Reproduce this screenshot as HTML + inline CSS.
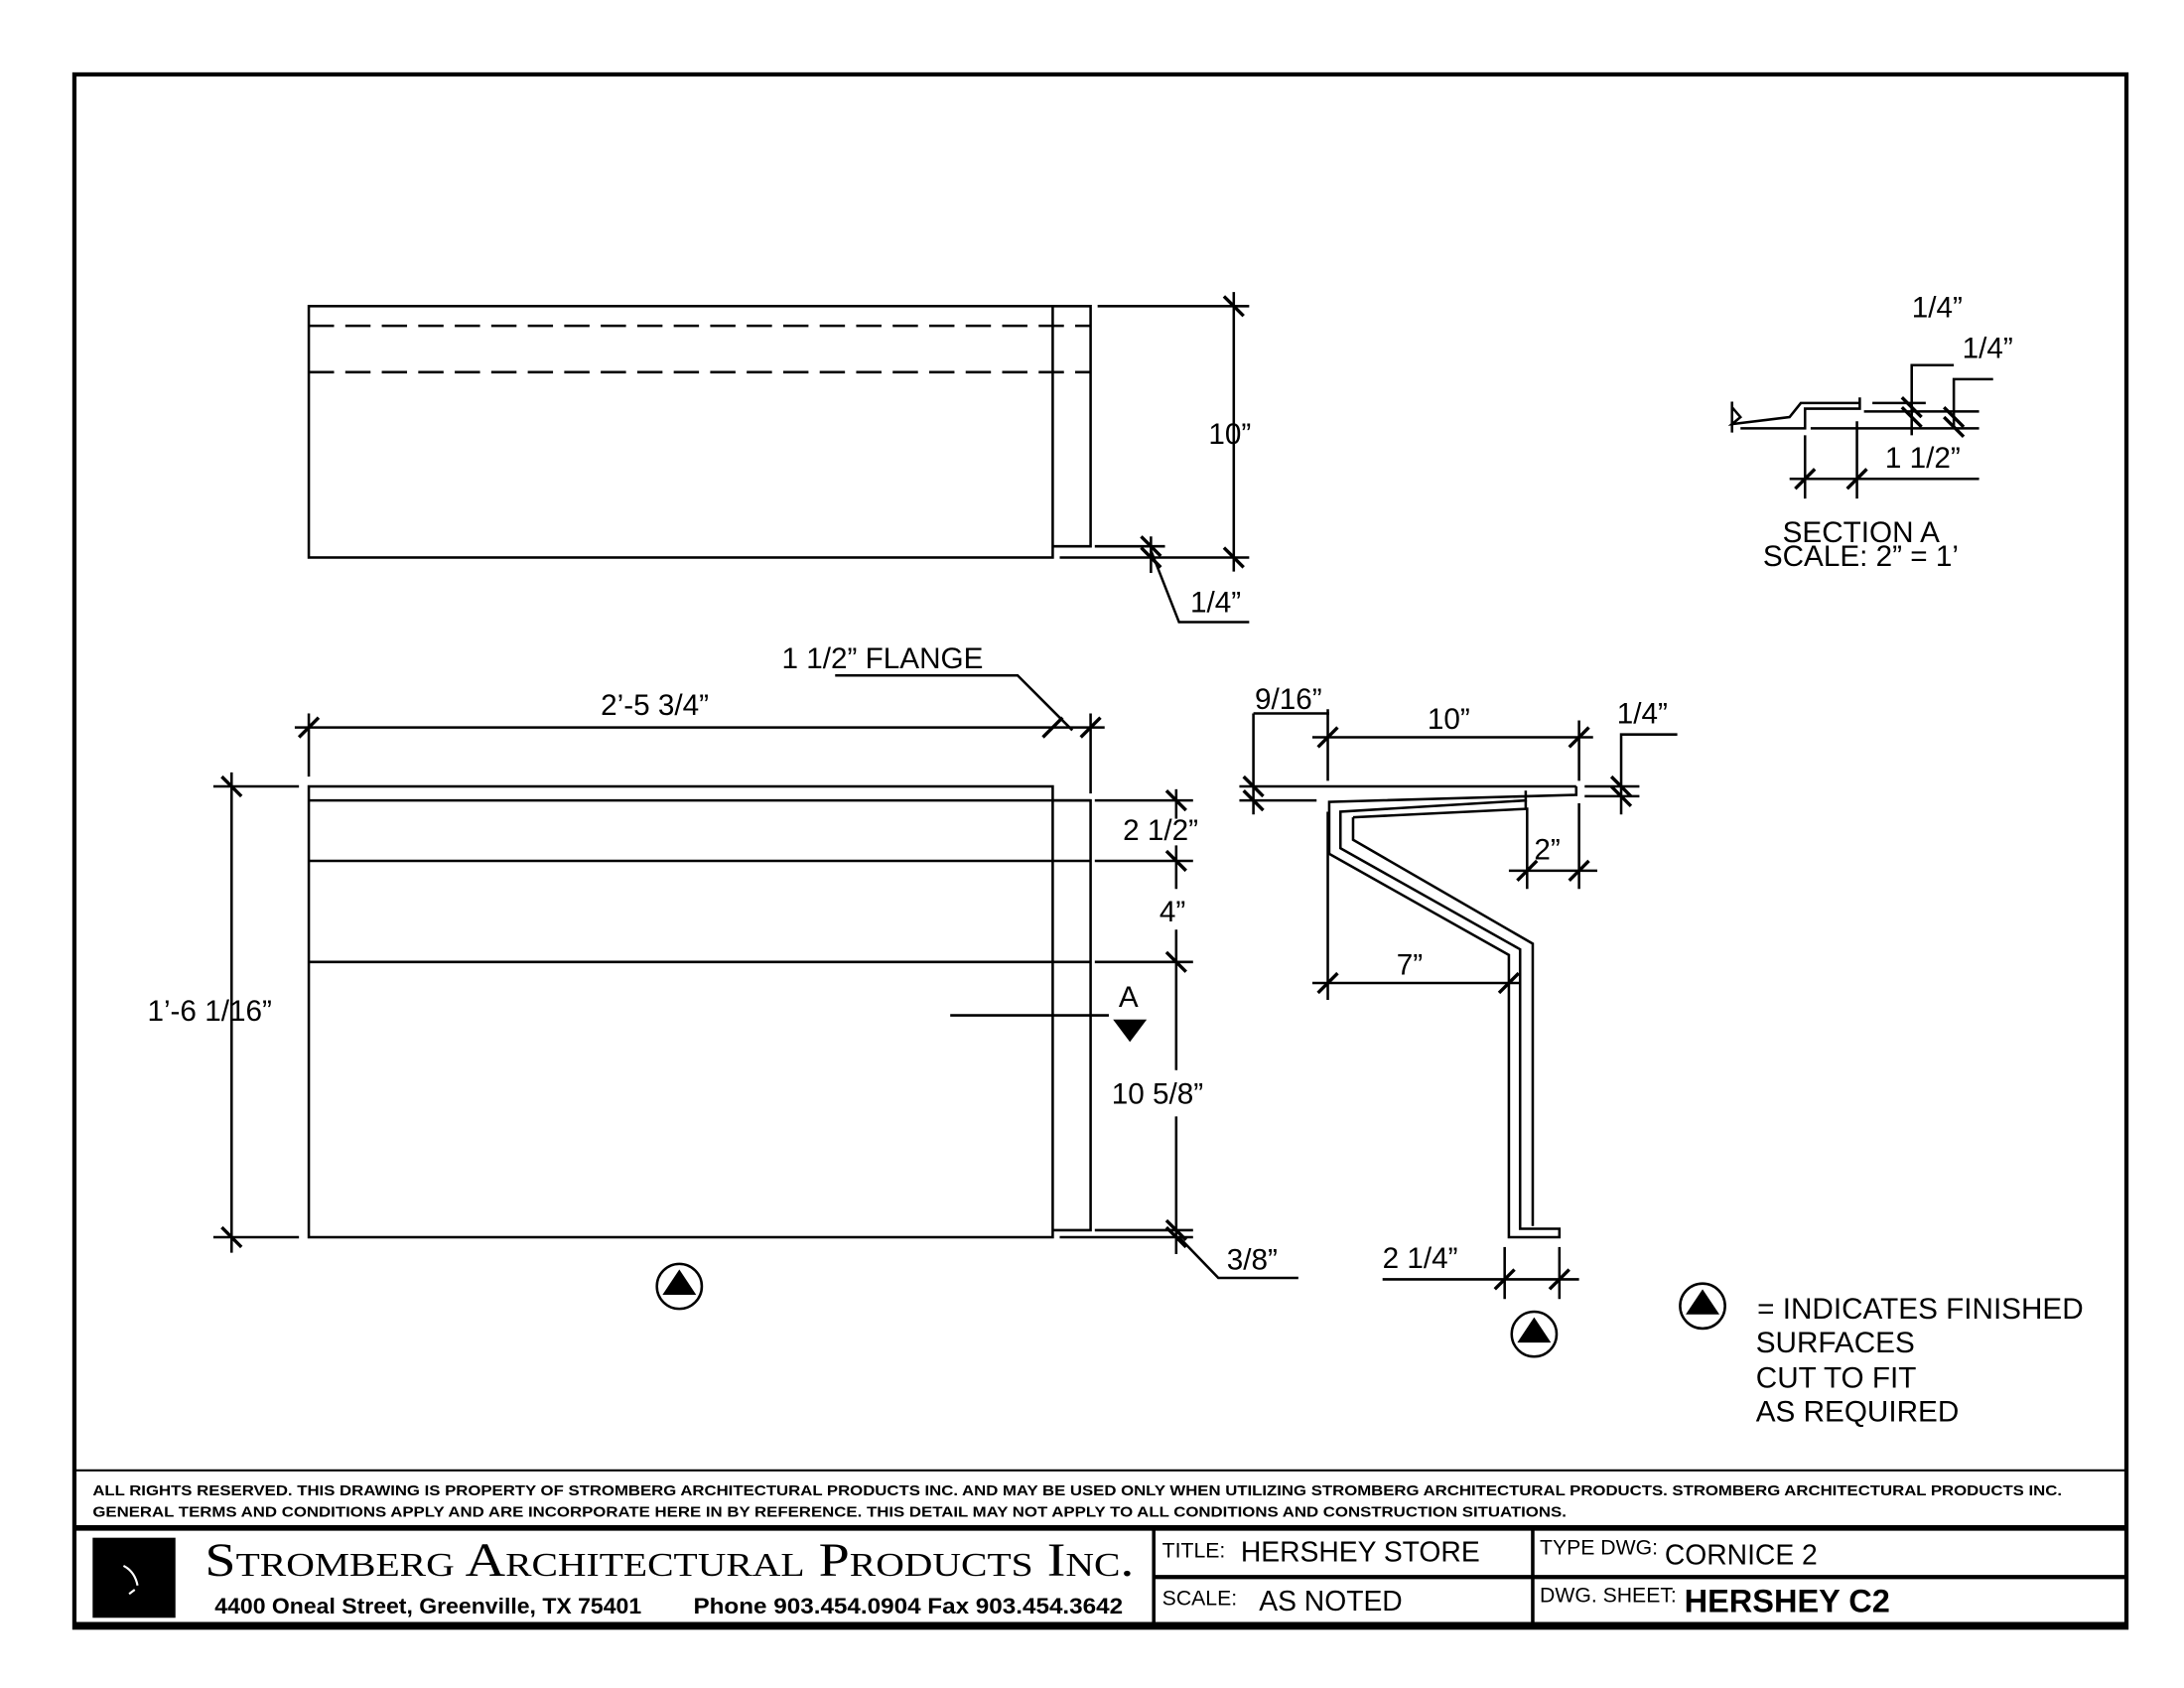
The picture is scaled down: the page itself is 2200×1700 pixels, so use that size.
<!DOCTYPE html>
<html><head><meta charset="utf-8"><style>
html,body{margin:0;padding:0;background:#fff;}
svg{display:block;}
text{font-family:"Liberation Sans",sans-serif;fill:#000;}
.d{font-size:21px;}
</style></head><body>
<svg width="2200" height="1700" viewBox="0 0 1556 1202" preserveAspectRatio="none" xmlns="http://www.w3.org/2000/svg">
<rect x="0" y="0" width="1556" height="1202" fill="#fff"/>
<g stroke="#000" fill="none" stroke-width="1.8">
<!-- border -->
<rect x="53" y="53" width="1462" height="1106" stroke-width="3"/>
<line x1="53" y1="1047" x2="1515" y2="1047" stroke-width="1.5"/>
<line x1="53" y1="1088" x2="1515" y2="1088" stroke-width="4"/>
<line x1="53" y1="1157" x2="1515" y2="1157" stroke-width="4"/>
<line x1="822" y1="1088" x2="822" y2="1159" stroke-width="2.5"/>
<line x1="1092" y1="1088" x2="1092" y2="1159" stroke-width="2.5"/>
<line x1="822" y1="1123" x2="1515" y2="1123" stroke-width="3"/>

<!-- TOP VIEW -->
<rect x="220" y="218" width="530" height="179"/>
<polyline points="750,218 777,218 777,389 750,389"/>
<line x1="220" y1="232" x2="777" y2="232" stroke-dasharray="18,8"/>
<line x1="220" y1="265" x2="777" y2="265" stroke-dasharray="18,8"/>
<line x1="782" y1="218" x2="890" y2="218"/>
<line x1="755" y1="397" x2="890" y2="397"/>
<line x1="780" y1="389" x2="830" y2="389"/>
<line x1="879" y1="208" x2="879" y2="407"/>
<line x1="820" y1="382" x2="820" y2="408"/>
<polyline points="820,392 840,443 890,443"/>
<g stroke-width="2.4">
<line x1="872" y1="211" x2="886" y2="225"/><line x1="872" y1="390" x2="886" y2="404"/>
<line x1="813" y1="382" x2="827" y2="396"/><line x1="813" y1="390" x2="827" y2="404"/>
</g>

<!-- FRONT VIEW -->
<rect x="220" y="560" width="530" height="321"/>
<line x1="220" y1="570" x2="777" y2="570"/>
<line x1="220" y1="613" x2="777" y2="613"/>
<line x1="220" y1="685" x2="777" y2="685"/>
<polyline points="750,570 777,570 777,876 750,876"/>
<line x1="210" y1="518" x2="787" y2="518"/>
<line x1="220" y1="508" x2="220" y2="553"/>
<line x1="777" y1="508" x2="777" y2="565"/>
<polyline points="595,481 725,481 764,520"/>
<line x1="152" y1="560" x2="213" y2="560"/>
<line x1="152" y1="881" x2="213" y2="881"/>
<line x1="165" y1="550" x2="165" y2="892"/>
<line x1="780" y1="570" x2="850" y2="570"/>
<line x1="780" y1="613" x2="850" y2="613"/>
<line x1="780" y1="685" x2="850" y2="685"/>
<line x1="780" y1="876" x2="850" y2="876"/>
<line x1="755" y1="881" x2="850" y2="881"/>
<line x1="838" y1="562" x2="838" y2="583"/>
<line x1="838" y1="602" x2="838" y2="633"/>
<line x1="838" y1="662" x2="838" y2="762"/>
<line x1="838" y1="795" x2="838" y2="893"/>
<polyline points="840,881 868,910 925,910"/>
<line x1="677" y1="723" x2="790" y2="723"/>
<g stroke-width="2.4">
<line x1="213" y1="525" x2="227" y2="511"/><line x1="743" y1="525" x2="757" y2="511"/><line x1="770" y1="525" x2="784" y2="511"/>
<line x1="158" y1="553" x2="172" y2="567"/><line x1="158" y1="874" x2="172" y2="888"/>
<line x1="831" y1="563" x2="845" y2="577"/><line x1="831" y1="606" x2="845" y2="620"/><line x1="831" y1="678" x2="845" y2="692"/>
<line x1="831" y1="869" x2="845" y2="883"/><line x1="831" y1="874" x2="845" y2="888"/>
</g>
<circle cx="484" cy="916" r="16"/>
<circle cx="1093" cy="950" r="16"/>
<circle cx="1213" cy="930" r="16"/>

<!-- PROFILE -->
<line x1="883" y1="560" x2="1123" y2="560"/>
<line x1="883" y1="570" x2="938" y2="570"/>
<line x1="1129" y1="560" x2="1168" y2="560"/>
<line x1="1129" y1="567" x2="1168" y2="567"/>
<polyline points="1123,560 1123,566 947,571 947,608 1075,680 1075,881 1111,881 1111,875 1083,875 1083,676 955,604 955,578 1087,570 1087,563"/>
<polyline points="964,582 964,598 1092,672 1092,873"/>
<polyline points="964,582 1087,576 1087,570"/>
<line x1="893" y1="508" x2="893" y2="580"/>
<line x1="893" y1="508" x2="947" y2="508"/>
<line x1="946" y1="505" x2="946" y2="556"/>
<line x1="946" y1="578" x2="946" y2="712"/>
<line x1="935" y1="525" x2="1135" y2="525"/>
<line x1="1125" y1="513" x2="1125" y2="556"/>
<line x1="1125" y1="572" x2="1125" y2="633"/>
<polyline points="1155,580 1155,523 1195,523"/>
<line x1="1088" y1="575" x2="1088" y2="633"/>
<line x1="1075" y1="620" x2="1138" y2="620"/>
<line x1="935" y1="700" x2="1083" y2="700"/>
<line x1="1072" y1="888" x2="1072" y2="925"/>
<line x1="1111" y1="888" x2="1111" y2="925"/>
<line x1="985" y1="911" x2="1125" y2="911"/>
<g stroke-width="2.4">
<line x1="886" y1="553" x2="900" y2="567"/><line x1="886" y1="563" x2="900" y2="577"/>
<line x1="939" y1="532" x2="953" y2="518"/><line x1="1118" y1="532" x2="1132" y2="518"/>
<line x1="1148" y1="553" x2="1162" y2="567"/><line x1="1148" y1="560" x2="1162" y2="574"/>
<line x1="1081" y1="627" x2="1095" y2="613"/><line x1="1118" y1="627" x2="1132" y2="613"/>
<line x1="939" y1="707" x2="953" y2="693"/><line x1="1068" y1="707" x2="1082" y2="693"/>
<line x1="1065" y1="918" x2="1079" y2="904"/><line x1="1104" y1="918" x2="1118" y2="904"/>
</g>

<!-- SECTION A -->
<polyline points="1234,290 1240,297 1234,302 1275,297 1283,287 1325,287"/>
<line x1="1234" y1="286" x2="1234" y2="308"/>
<polyline points="1240,305 1286,305 1286,291 1325,291 1325,283"/>
<line x1="1290" y1="305" x2="1410" y2="305"/>
<line x1="1328" y1="293" x2="1410" y2="293"/>
<line x1="1334" y1="287" x2="1372" y2="287"/>
<polyline points="1362,310 1362,260 1392,260"/>
<polyline points="1392,305 1392,270 1420,270"/>
<line x1="1286" y1="310" x2="1286" y2="355"/>
<line x1="1323" y1="300" x2="1323" y2="355"/>
<line x1="1275" y1="341" x2="1410" y2="341"/>
<g stroke-width="2.4">
<line x1="1355" y1="283" x2="1369" y2="297"/><line x1="1355" y1="290" x2="1369" y2="304"/>
<line x1="1385" y1="290" x2="1399" y2="304"/><line x1="1385" y1="297" x2="1399" y2="311"/>
<line x1="1279" y1="348" x2="1293" y2="334"/><line x1="1316" y1="348" x2="1330" y2="334"/>
</g>
</g>
<!-- filled shapes -->
<polygon points="793,726 817,726 805,742" fill="#000"/>
<polygon points="484,904 496,922 472,922" fill="#000"/>
<polygon points="1093,938 1105,956 1081,956" fill="#000"/>
<polygon points="1213,918 1225,936 1201,936" fill="#000"/>
<rect x="66" y="1095" width="59" height="57" fill="#000"/>
<path d="M88 1115 q8 4 10 14 M92 1135 l4 -3" stroke="#fff" stroke-width="1.5" fill="none"/>

<!-- labels -->
<g class="d">
<text x="861" y="316">10”</text>
<text x="848" y="436">1/4”</text>
<text x="428" y="509">2’-5 3/4”</text>
<text x="557" y="476">1 1/2” FLANGE</text>
<text x="105" y="727">1’-6 1/16”</text>
<text x="800" y="598">2 1/2”</text>
<text x="826" y="656">4”</text>
<text x="797" y="717">A</text>
<text x="792" y="786">10 5/8”</text>
<text x="874" y="904">3/8”</text>
<text x="894" y="505">9/16”</text>
<text x="1017" y="519">10”</text>
<text x="1152" y="515">1/4”</text>
<text x="1093" y="612">2”</text>
<text x="995" y="694">7”</text>
<text x="985" y="903">2 1/4”</text>
<text x="1362" y="226">1/4”</text>
<text x="1398" y="255">1/4”</text>
<text x="1343" y="333">1 1/2”</text>
<text x="1270" y="386">SECTION A</text>
<text x="1256" y="403">SCALE:  2” = 1’</text>
<text x="1252" y="939">= INDICATES FINISHED</text>
<text x="1251" y="963">SURFACES</text>
<text x="1251" y="988">CUT TO FIT</text>
<text x="1251" y="1012">AS REQUIRED</text>
</g>
<text x="66" y="1065" font-size="10.5" font-weight="bold" textLength="1403" lengthAdjust="spacingAndGlyphs">ALL RIGHTS RESERVED. THIS DRAWING IS PROPERTY OF STROMBERG ARCHITECTURAL PRODUCTS INC. AND MAY BE USED ONLY WHEN UTILIZING STROMBERG ARCHITECTURAL PRODUCTS.  STROMBERG ARCHITECTURAL PRODUCTS INC.</text>
<text x="66" y="1080" font-size="10.5" font-weight="bold" textLength="1050" lengthAdjust="spacingAndGlyphs">GENERAL TERMS AND CONDITIONS APPLY AND ARE INCORPORATE HERE IN BY REFERENCE.  THIS DETAIL MAY NOT APPLY TO ALL CONDITIONS AND CONSTRUCTION SITUATIONS.</text>
<text x="146" y="1122" font-size="34" style="font-family:'Liberation Serif',serif;font-variant:small-caps" textLength="662" lengthAdjust="spacingAndGlyphs">Stromberg Architectural Products Inc.</text>
<text x="153" y="1149" font-size="16" font-weight="bold" textLength="304" lengthAdjust="spacingAndGlyphs">4400 Oneal Street, Greenville, TX  75401</text>
<text x="494" y="1149" font-size="16" font-weight="bold" textLength="306" lengthAdjust="spacingAndGlyphs">Phone 903.454.0904   Fax 903.454.3642</text>
<text x="828" y="1109" font-size="15">TITLE:</text>
<text x="884" y="1112" font-size="20">HERSHEY STORE</text>
<text x="828" y="1143" font-size="15">SCALE:</text>
<text x="897" y="1147" font-size="20">AS NOTED</text>
<text x="1097" y="1107" font-size="15">TYPE DWG:</text>
<text x="1186" y="1114" font-size="20">CORNICE 2</text>
<text x="1097" y="1141" font-size="15">DWG. SHEET:</text>
<text x="1200" y="1148" font-size="23" font-weight="bold">HERSHEY C2</text>
</svg>
</body></html>
